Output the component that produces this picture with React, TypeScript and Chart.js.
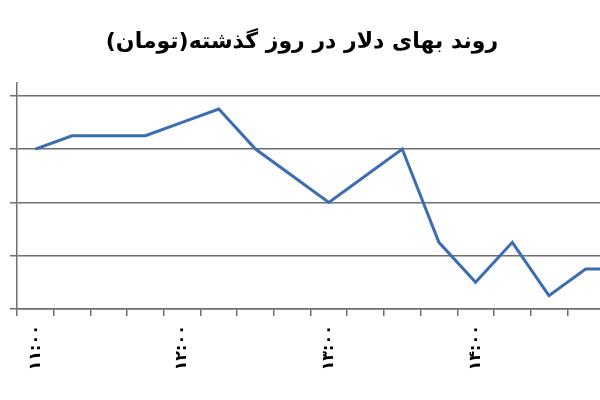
import React, { useEffect, useRef } from 'react';
import { Chart, registerables } from 'chart.js';

Chart.register(...registerables);

const TITLE = 'روند بهای دلار در روز گذشته(تومان)';
const CATEGORIES = [
  '۱۱:۰۰', '۱۱:۱۵', '۱۱:۳۰', '۱۱:۴۵',
  '۱۲:۰۰', '۱۲:۱۵', '۱۲:۳۰', '۱۲:۴۵',
  '۱۳:۰۰', '۱۳:۱۵', '۱۳:۳۰', '۱۳:۴۵',
  '۱۴:۰۰', '۱۴:۱۵', '۱۴:۳۰', '۱۴:۴۵',
  '۱۵:۰۰',
];
const PRICES = [3560, 3565, 3565, 3565, 3570, 3575, 3560, 3550, 3540, 3550, 3560, 3525, 3510, 3525, 3505, 3515, 3515];
const Y_TICKS = [3500, 3520, 3540, 3560, 3580];
const Y_MIN = 3500;
const Y_MAX = 3585;
const VISIBLE_CATEGORIES = 16;
const LABEL_EVERY = 4;

export default function App() {
  const ref = useRef<HTMLCanvasElement | null>(null);

  useEffect(() => {
    if (!ref.current) return;
    const chart = new Chart(ref.current, {
      type: 'line',
      data: {
        datasets: [
          {
            data: PRICES.map((y, i) => ({ x: i, y })),
            borderColor: '#3b6db3',
            borderWidth: 3,
            pointRadius: 0,
            tension: 0,
            fill: false,
            clip: false as any,
          },
        ],
      },
      options: {
        animation: false,
        responsive: false,
        layout: { padding: 0 },
        plugins: {
          legend: { display: false },
          tooltip: { enabled: false },
          title: {
            display: true,
            text: TITLE + '\u200F',
            color: '#000',
            font: { family: 'DejaVu Sans', size: 22, weight: 'bold' },
            padding: { top: 29, bottom: 27 },
          },
        },
        scales: {
          x: {
            type: 'linear',
            min: -0.5,
            max: VISIBLE_CATEGORIES - 0.5,
            afterBuildTicks: (scale: any) => {
              scale.ticks = CATEGORIES.slice(0, VISIBLE_CATEGORIES).map((_, i) => ({ value: i }));
            },
            afterFit: (scale: any) => {
              scale.height = 91;
              scale.paddingLeft = 0;
              scale.paddingRight = 0;
            },
            border: { display: true, color: '#6f6f6f', width: 1.5 },
            grid: {
              offset: true,
              drawOnChartArea: false,
              drawTicks: true,
              tickLength: 7,
              color: '#6f6f6f',
              lineWidth: 1.5,
            },
            ticks: {
              autoSkip: false,
              minRotation: 90,
              maxRotation: 90,
              padding: 9,
              color: '#000',
              font: { family: 'DejaVu Sans', size: 16, weight: 'bold' },
              callback: (value: any) => {
                const i = Math.round(Number(value));
                return i % LABEL_EVERY === 0 ? CATEGORIES[i] : '';
              },
            },
          },
          y: {
            type: 'linear',
            min: Y_MIN,
            max: Y_MAX,
            afterBuildTicks: (scale: any) => {
              scale.ticks = Y_TICKS.map((v) => ({ value: v }));
            },
            afterFit: (scale: any) => {
              scale.width = 17;
            },
            border: { display: true, color: '#6f6f6f', width: 1.5 },
            grid: {
              drawOnChartArea: true,
              drawTicks: true,
              tickLength: 7,
              color: '#6f6f6f',
              lineWidth: 1.5,
            },
            ticks: { display: false },
          },
        },
      },
    });
    return () => chart.destroy();
  }, []);

  return (
    <div
      style={{
        position: 'fixed',
        left: 0,
        top: 0,
        width: 600,
        height: 400,
        overflow: 'hidden',
        background: '#fff',
      }}
    >
      <canvas ref={ref} width={604} height={400} style={{ display: 'block', width: 604, height: 400 }} />
    </div>
  );
}
